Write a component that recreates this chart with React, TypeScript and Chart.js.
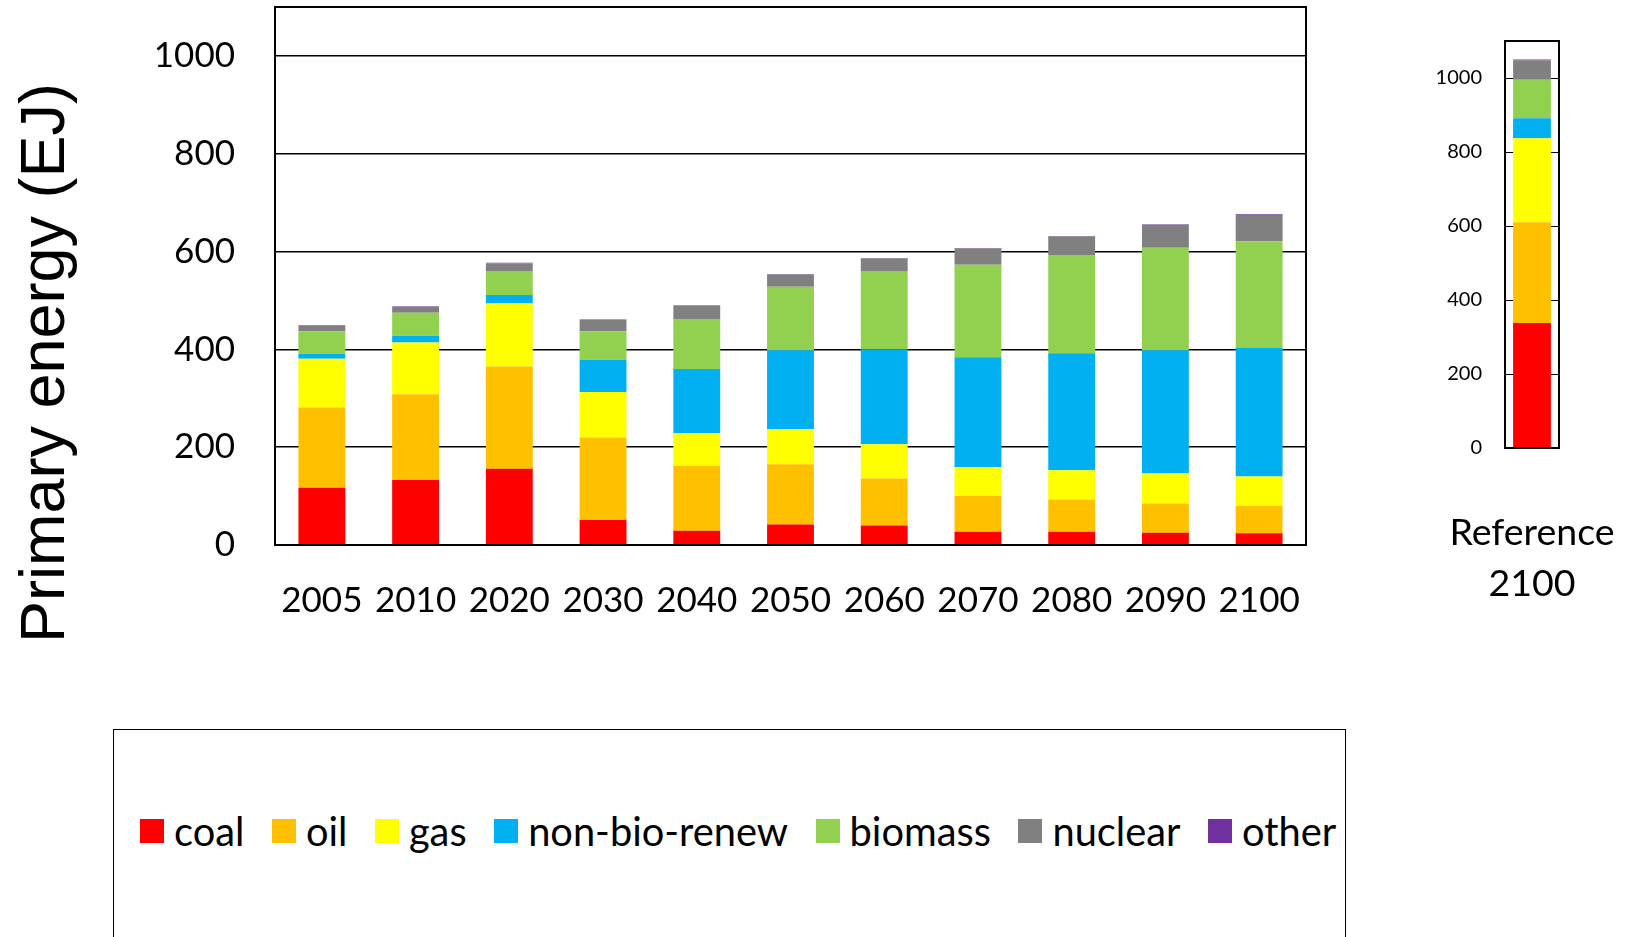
import React, { useEffect, useRef } from 'react';
import { Chart, registerables } from 'chart.js';

Chart.register(...registerables);

// ---------- data ----------
const categories = ['2005', '2010', '2020', '2030', '2040', '2050', '2060', '2070', '2080', '2090', '2100'];
const coal = [117, 133, 156, 51, 29, 42, 40, 27, 27, 25, 24];
const oil = [164, 175, 209, 169, 133, 123, 96, 73, 66, 60, 56];
const gas = [100, 106, 129, 93, 67, 72, 70, 59, 60, 61, 60];
const nonBioRenew = [10, 14, 17, 66, 131, 161, 194, 225, 239, 252, 263];
const biomass = [46, 47, 49, 58, 102, 130, 160, 189, 201, 210, 218];
const nuclear = [12, 12, 16, 23, 27, 25, 26, 33, 38, 47, 54];
const other = [1, 1, 1, 1, 1, 1, 1, 1, 1, 1, 2];

const seriesNames = ['coal', 'oil', 'gas', 'non-bio-renew', 'biomass', 'nuclear', 'other'];
const seriesColors = ['#FF0000', '#FFC000', '#FFFF00', '#00B0F0', '#92D050', '#808080', '#7030A0'];

const refCategories = [['Reference', '2100']];
const refValues = [338, 272, 227, 54, 104, 52, 3]; // coal, oil, gas, non-bio-renew, biomass, nuclear, other

const yTicks = [0, 200, 400, 600, 800, 1000];
const yMax = 1100;
const yAxisTitle = 'Primary energy (EJ)';

// ---------- plugins ----------
const plotBox = {
  id: 'plotBox',
  afterDatasetsDraw(chart: any, _args: any, opts: any) {
    const { ctx, chartArea: a } = chart;
    ctx.save();
    ctx.strokeStyle = '#000';
    ctx.lineWidth = opts.lineWidth || 2;
    ctx.strokeRect(a.left, a.top, a.right - a.left, a.bottom - a.top);
    ctx.restore();
  },
};

const yTitlePlugin = {
  id: 'yTitle',
  afterDraw(chart: any, _args: any, opts: any) {
    if (!opts || !opts.text) return;
    const { ctx } = chart;
    ctx.save();
    ctx.translate(opts.x, opts.y);
    ctx.rotate(-Math.PI / 2);
    ctx.font = opts.font;
    ctx.fillStyle = '#000';
    ctx.textAlign = 'center';
    ctx.textBaseline = 'middle';
    ctx.fillText(opts.text, 0, 0);
    ctx.restore();
  },
};

const fixY = (w: number) => (s: any) => {
  s.width = w;
  s.paddingTop = 0;
  s.paddingBottom = 0;
};
const fixX = (h: number) => (s: any) => {
  s.height = h;
  s.paddingLeft = 0;
  s.paddingRight = 0;
};
const plainNumber = (v: any) => String(v);

function MainChart() {
  const ref = useRef<HTMLCanvasElement>(null);
  useEffect(() => {
    const seriesData = [coal, oil, gas, nonBioRenew, biomass, nuclear, other];
    const chart = new Chart(ref.current!, {
      type: 'bar',
      data: {
        labels: categories,
        datasets: seriesNames.map((name, i) => ({
          label: name,
          data: seriesData[i],
          backgroundColor: seriesColors[i],
          borderWidth: 0,
          categoryPercentage: 0.5,
          barPercentage: 1,
        })),
      },
      plugins: [plotBox, yTitlePlugin],
      options: {
        responsive: false,
        animation: false,
        events: [],
        layout: { padding: { top: 7, right: 24, left: 0, bottom: 0 } },
        plugins: {
          legend: { display: false },
          tooltip: { enabled: false },
          plotBox: { lineWidth: 2 },
          yTitle: { text: yAxisTitle, x: 47, y: 363, font: '63px "Liberation Sans", Arial, sans-serif' },
        } as any,
        scales: {
          x: {
            stacked: true,
            grid: { display: false },
            border: { display: true, color: '#000', width: 2 },
            ticks: {
              color: '#000',
              font: { family: 'Lato', size: 35 },
              padding: 27,
              maxRotation: 0,
              autoSkip: false,
            },
            afterFit: fixX(155),
          },
          y: {
            stacked: true,
            min: 0,
            max: yMax,
            afterBuildTicks: (s: any) => {
              s.ticks = yTicks.map((v) => ({ value: v }));
            },
            grid: { color: '#000', lineWidth: 1.5, drawTicks: false },
            border: { display: true, color: '#000', width: 2 },
            ticks: {
              color: '#000',
              font: { family: 'Lato', size: 35 },
              padding: 40,
              callback: plainNumber,
            },
            afterFit: fixY(275),
          },
        },
      },
    } as any);
    return () => chart.destroy();
  }, []);
  return (
    <canvas
      ref={ref}
      width={1330}
      height={700}
      style={{ position: 'absolute', left: 0, top: 0, width: 1330, height: 700 }}
    />
  );
}

function RefChart() {
  const ref = useRef<HTMLCanvasElement>(null);
  useEffect(() => {
    const chart = new Chart(ref.current!, {
      type: 'bar',
      data: {
        labels: refCategories,
        datasets: seriesNames.map((name, i) => ({
          label: name,
          data: [refValues[i]],
          backgroundColor: seriesColors[i],
          borderWidth: 0,
          categoryPercentage: 0.7,
          barPercentage: 1,
        })),
      },
      plugins: [plotBox],
      options: {
        responsive: false,
        animation: false,
        events: [],
        layout: { padding: { top: 41, right: 66, left: 0, bottom: 0 } },
        plugins: {
          legend: { display: false },
          tooltip: { enabled: false },
          plotBox: { lineWidth: 2 },
        } as any,
        scales: {
          x: {
            stacked: true,
            grid: { display: false },
            border: { display: true, color: '#000', width: 2 },
            ticks: {
              color: '#000',
              font: { family: 'Lato', size: 37.5, lineHeight: 1.36 },
              padding: 51,
              maxRotation: 0,
              minRotation: 0,
              autoSkip: false,
            },
            afterFit: fixX(192),
          },
          y: {
            stacked: true,
            min: 0,
            max: yMax,
            afterBuildTicks: (s: any) => {
              s.ticks = yTicks.map((v) => ({ value: v }));
            },
            grid: { color: '#000', lineWidth: 1, drawTicks: false },
            border: { display: true, color: '#000', width: 2 },
            ticks: {
              color: '#000',
              font: { family: 'Lato', size: 20 },
              padding: 23,
              callback: plainNumber,
            },
            afterFit: fixY(125),
          },
        },
      },
    } as any);
    return () => chart.destroy();
  }, []);
  return (
    <canvas
      ref={ref}
      width={245}
      height={640}
      style={{ position: 'absolute', left: 1380, top: 0, width: 245, height: 640 }}
    />
  );
}

function Legend() {
  return (
    <div
      style={{
        position: 'absolute',
        left: 113,
        top: 729,
        width: 1233,
        height: 300,
        border: '1.5px solid #000',
        boxSizing: 'border-box',
        background: '#fff',
      }}
    >
      <div
        style={{
          position: 'absolute',
          left: 26,
          top: 77,
          height: 48,
          display: 'flex',
          alignItems: 'center',
          whiteSpace: 'nowrap',
          fontFamily: 'Lato, sans-serif',
          fontSize: 39.8,
          color: '#000',
          gap: 27.5,
        }}
      >
        {seriesNames.map((name, i) => (
          <div key={name} style={{ display: 'flex', alignItems: 'center' }}>
            <span
              style={{
                display: 'inline-block',
                width: 24,
                height: 24,
                background: seriesColors[i],
                marginRight: 10,
              }}
            />
            <span style={{ lineHeight: '48px' }}>{name}</span>
          </div>
        ))}
      </div>
    </div>
  );
}

export default function App() {
  return (
    <div
      style={{
        position: 'fixed',
        left: 0,
        top: 0,
        width: 1625,
        height: 937,
        overflow: 'hidden',
        background: '#fff',
      }}
    >
      <MainChart />
      <RefChart />
      <Legend />
    </div>
  );
}
